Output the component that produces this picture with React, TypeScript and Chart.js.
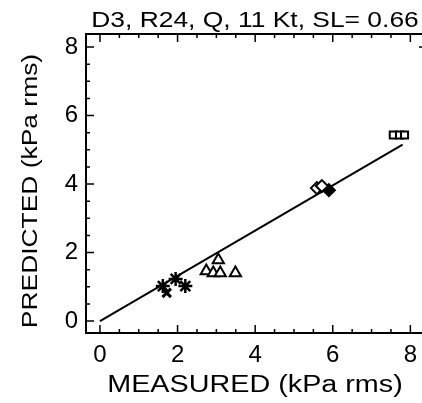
import React, { useEffect, useRef } from "react";
import { Chart, registerables } from "chart.js";
Chart.register(...registerables);

const titleText = "D3, R24, Q, 11 Kt, SL= 0.66";
const xTitle = "MEASURED (kPa rms)";
const yTitle = "PREDICTED (kPa rms)";
const tickValues = [0, 2, 4, 6, 8];
const minorTicks = [0, 0.5, 1, 1.5, 2, 2.5, 3, 3.5, 4, 4.5, 5, 5.5, 6, 6.5, 7, 7.5, 8];

const starX = [1.62, 1.95, 2.2];
const starY = [1.02, 1.23, 1.02];
const crossX = [1.72];
const crossY = [0.82];
const triX = [3.05, 2.74, 2.92, 3.1, 3.49];
const triY = [1.78, 1.46, 1.4, 1.4, 1.4];
const diaOpenX = [5.59, 5.72];
const diaOpenY = [3.88, 3.94];
const diaFillX = [5.9];
const diaFillY = [3.82];
const sqX = [7.56, 7.72, 7.85];
const sqY = [5.43, 5.43, 5.43];
const lineX = [0, 7.8];
const lineY = [0, 5.15];

const FONT = '"Liberation Sans", Arial, Helvetica, sans-serif';

const pts = (xs: number[], ys: number[]) => xs.map((x, i) => ({ x, y: ys[i] }));

const decor = {
  id: "decor",
  afterDraw(chart: any) {
    const { ctx, chartArea: a, scales } = chart;
    const xs = scales.x;
    const ys = scales.y;
    ctx.save();
    ctx.strokeStyle = "#000";
    ctx.lineWidth = 2;
    ctx.beginPath();
    ctx.moveTo(a.left, a.top);
    ctx.lineTo(chart.width, a.top);
    ctx.stroke();
    ctx.lineWidth = 1.5;
    ctx.beginPath();
    minorTicks.forEach((v) => {
      const major = tickValues.includes(v);
      const len = major ? 8 : 4;
      const px = xs.getPixelForValue(v);
      ctx.moveTo(px, a.bottom);
      ctx.lineTo(px, a.bottom - len);
      ctx.moveTo(px, a.top);
      ctx.lineTo(px, a.top + len);
      const py = ys.getPixelForValue(v);
      ctx.moveTo(a.left, py);
      ctx.lineTo(a.left + len, py);
    });
    ctx.stroke();
    ctx.beginPath();
    const p8 = ys.getPixelForValue(8);
    ctx.moveTo(chart.width - 3, p8);
    ctx.lineTo(chart.width, p8);
    ctx.stroke();

    ctx.fillStyle = "#000";
    ctx.textAlign = "center";
    ctx.textBaseline = "alphabetic";
    ctx.save();
    ctx.font = `22px ${FONT}`;
    ctx.translate(255, 27);
    ctx.scale(1.2, 1);
    ctx.fillText(titleText, 0, 0);
    ctx.restore();
    ctx.save();
    ctx.font = `23px ${FONT}`;
    ctx.translate(255, 392);
    ctx.scale(1.25, 1);
    ctx.fillText(xTitle, 0, 0);
    ctx.restore();
    ctx.save();
    ctx.font = `22px ${FONT}`;
    ctx.translate(37, 191);
    ctx.rotate(-Math.PI / 2);
    ctx.scale(1.2, 1);
    ctx.fillText(yTitle, 0, 0);
    ctx.restore();
    ctx.restore();
  },
};

export default function App() {
  const ref = useRef<HTMLCanvasElement>(null);
  useEffect(() => {
    const canvas = ref.current!;
    const chart = new Chart(canvas, {
      type: "scatter",
      data: {
        datasets: [
          {
            type: "line",
            data: pts(lineX, lineY),
            borderColor: "#000",
            borderWidth: 2,
            pointRadius: 0,
            fill: false,
          } as any,
          {
            data: pts(starX, starY),
            pointStyle: "star",
            pointRadius: 7,
            borderWidth: 2.5,
            borderColor: "#000",
            backgroundColor: "#000",
          },
          {
            data: pts(crossX, crossY),
            pointStyle: "crossRot",
            pointRadius: 6,
            borderWidth: 3,
            borderColor: "#000",
          },
          {
            data: pts(triX, triY),
            pointStyle: "triangle",
            pointRadius: 6.5,
            borderWidth: 2,
            borderColor: "#000",
            backgroundColor: "#fff",
          },
          {
            data: pts(diaOpenX, diaOpenY),
            pointStyle: "rectRot",
            pointRadius: 6,
            borderWidth: 2,
            borderColor: "#000",
            backgroundColor: "#fff",
          },
          {
            data: pts(diaFillX, diaFillY),
            pointStyle: "rectRot",
            pointRadius: 6,
            borderWidth: 2,
            borderColor: "#000",
            backgroundColor: "#000",
          },
          {
            data: pts(sqX, sqY),
            pointStyle: "rect",
            pointRadius: 5,
            borderWidth: 2,
            borderColor: "#000",
            backgroundColor: "#fff",
          },
        ],
      },
      options: {
        responsive: false,
        animation: false,
        layout: { autoPadding: false, padding: { top: 34, left: 0, right: 0, bottom: 0 } },
        plugins: { legend: { display: false }, tooltip: { enabled: false }, title: { display: false } },
        scales: {
          x: {
            type: "linear",
            position: "bottom",
            min: -0.36,
            max: 8.3,
            afterBuildTicks: (s: any) => {
              s.ticks = tickValues.map((v) => ({ value: v }));
            },
            afterFit: (s: any) => {
              s.height = 70;
              s.paddingLeft = 0;
              s.paddingRight = 0;
            },
            grid: { display: false, drawTicks: false },
            border: { display: true, color: "#000", width: 2 },
            ticks: {
              color: "#000",
              font: { size: 24, family: FONT },
              padding: 8,
              maxRotation: 0,
              autoSkip: false,
              callback: (v: any) => String(v),
            },
          },
          y: {
            type: "linear",
            min: -0.35,
            max: 8.38,
            afterBuildTicks: (s: any) => {
              s.ticks = tickValues.map((v) => ({ value: v }));
            },
            afterFit: (s: any) => {
              s.width = 86;
              s.paddingTop = 0;
              s.paddingBottom = 0;
            },
            grid: { display: false, drawTicks: false },
            border: { display: true, color: "#000", width: 2 },
            ticks: {
              color: "#000",
              font: { size: 24, family: FONT },
              padding: 8,
              autoSkip: false,
              callback: (v: any) => String(v),
            },
          },
        },
      },
      plugins: [decor],
    });
    return () => chart.destroy();
  }, []);
  return (
    <div style={{ position: "fixed", left: 0, top: 0, width: 422, height: 403, overflow: "hidden", background: "#fff" }}>
      <canvas ref={ref} width={422} height={403} />
    </div>
  );
}
